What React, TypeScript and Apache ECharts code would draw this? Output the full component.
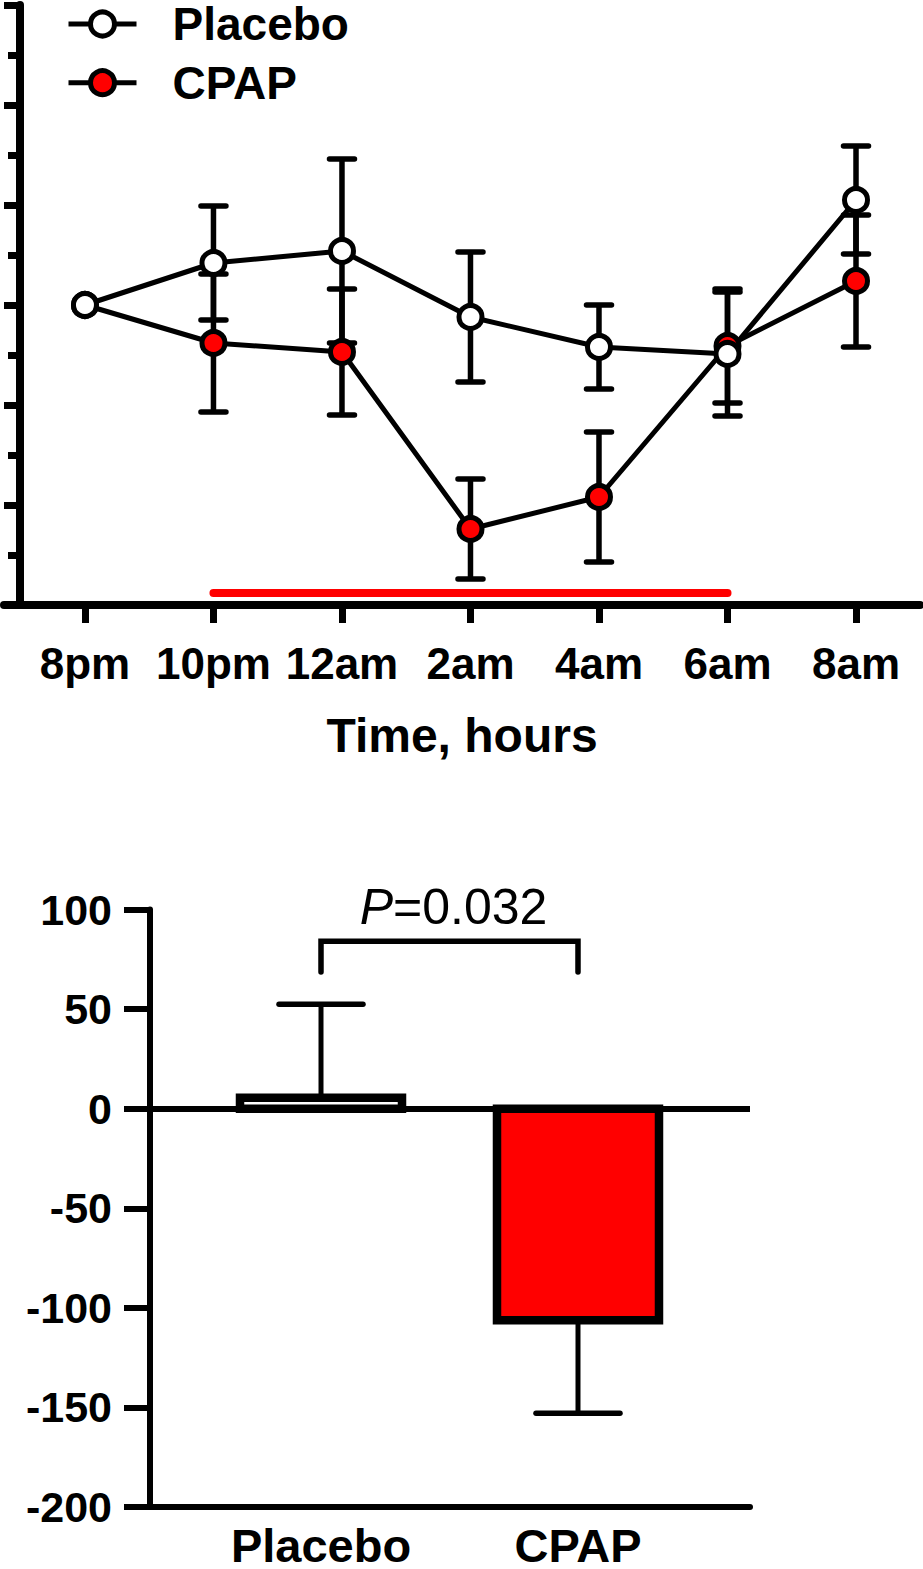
import React, { useEffect, useRef } from "react";
import * as echarts from "echarts";

// ---- Top panel data ----
const timeLabels = ["8pm", "10pm", "12am", "2am", "4am", "6am", "8am"];
const placeboMean = [100.0, 104.2, 105.4, 98.8, 95.8, 95.1, 110.5];
const placeboErr = [0, 5.7, 9.2, 6.5, 4.2, 6.2, 5.4];
const cpapMean = [100.0, 96.2, 95.3, 77.6, 80.8, 95.9, 102.4];
const cpapErr = [0, 6.9, 6.3, 5.0, 6.5, 5.7, 6.6];
const sigSpan = [1, 5];
const sigLevel = 71.2;

// ---- Bottom panel data ----
const groupNames = ["Placebo", "CPAP"];
const changeMean = [5.5, -106.2];
const changeErrEnd = [52.4, -152.9];
const barColors = ["#ffffff", "#ff0000"];
const bracketEnds = [0, 1];
const bracketTop = 84;
const bracketFoot = 68.6;
const pLabel = "P=0.032";
const pLabelLevel = 101.5;

const FONT = "'Liberation Sans', Arial, Helvetica, sans-serif";
const RED = "#ff0000";

function errData(mean: number[], err: number[]) {
  const out: number[][] = [];
  mean.forEach((m, i) => {
    if (err[i] > 0) out.push([i, m - err[i], m + err[i]]);
  });
  return out;
}

function errRender(half: number) {
  return (params: any, api: any) => {
    const x = api.value(0);
    const a = api.coord([x, api.value(1)]);
    const b = api.coord([x, api.value(2)]);
    const capStyle = { stroke: "#000", lineWidth: 5.5, lineCap: "round" };
    return {
      type: "group",
      children: [
        { type: "line", shape: { x1: a[0], y1: a[1], x2: b[0], y2: b[1] }, style: { stroke: "#000", lineWidth: 5.5 } },
        { type: "line", shape: { x1: a[0] - half, y1: a[1], x2: a[0] + half, y2: a[1] }, style: capStyle },
        { type: "line", shape: { x1: b[0] - half, y1: b[1], x2: b[0] + half, y2: b[1] }, style: capStyle },
      ],
    };
  };
}

function oneSidedErrRender(half: number) {
  return (params: any, api: any) => {
    const x = api.value(0);
    const a = api.coord([x, api.value(1)]);
    const b = api.coord([x, api.value(2)]);
    return {
      type: "group",
      children: [
        { type: "line", shape: { x1: a[0], y1: a[1], x2: b[0], y2: b[1] }, style: { stroke: "#000", lineWidth: 5 } },
        { type: "line", shape: { x1: b[0] - half, y1: b[1], x2: b[0] + half, y2: b[1] }, style: { stroke: "#000", lineWidth: 5.5, lineCap: "round" } },
      ],
    };
  };
}

// bar with a stroke centred on its edges (as in the original figure)
function barRender(innerWidth: number, border: number) {
  return (params: any, api: any) => {
    const x = api.value(0);
    const top = api.coord([x, api.value(1)]);
    const base = api.coord([x, 0]);
    const y0 = Math.min(top[1], base[1]);
    const h = Math.abs(top[1] - base[1]);
    return {
      type: "rect",
      shape: { x: top[0] - innerWidth / 2, y: y0, width: innerWidth, height: h },
      style: { fill: barColors[params.dataIndex], stroke: "#000", lineWidth: border },
    };
  };
}

export default function App() {
  const ref = useRef<HTMLDivElement>(null);

  useEffect(() => {
    if (!ref.current) return;
    const chart = echarts.init(ref.current, null, { renderer: "svg" });

    const option: any = {
      animation: false,
      backgroundColor: "#fff",
      textStyle: { fontFamily: FONT, color: "#000" },
      legend: {
        data: ["Placebo", "CPAP"],
        orient: "vertical",
        left: 66,
        top: 1,
        padding: 0,
        itemWidth: 68,
        itemHeight: 30,
        itemGap: 12.7,
        lineStyle: { width: 5, color: "#000" },
        itemStyle: { borderWidth: 5, borderColor: "#000" },
        textStyle: {
          fontFamily: FONT,
          fontSize: 46,
          fontWeight: "bold",
          color: "#000",
          lineHeight: 46,
          padding: [0, 0, 0, 31],
        },
      },
      grid: [
        { left: 4, top: 5, width: 916, height: 600 },
        { left: 150, top: 909.5, width: 600, height: 599 },
      ],
      xAxis: [
        {
          gridIndex: 0,
          type: "value",
          min: -0.63,
          max: 6.498,
          splitLine: { show: false },
          axisLine: { show: true, onZero: false, lineStyle: { color: "#000", width: 8 } },
          axisTick: {
            show: true,
            customValues: timeLabels.map((_, i) => i),
            length: 18,
            lineStyle: { color: "#000", width: 7 },
          },
          axisLabel: {
            customValues: timeLabels.map((_, i) => i),
            formatter: (v: number) => timeLabels[Math.round(v)] ?? "",
            fontFamily: FONT,
            fontSize: 44,
            fontWeight: "bold",
            color: "#000",
            margin: 36,
          },
          name: "Time, hours",
          nameLocation: "middle",
          nameGap: 106,
          nameTextStyle: { fontFamily: FONT, fontSize: 48, fontWeight: "bold", color: "#000" },
        },
        {
          gridIndex: 1,
          type: "value",
          min: -0.6654,
          max: 1.6693,
          position: "bottom",
          splitLine: { show: false },
          axisLine: { show: true, onZero: false, lineStyle: { color: "#000", width: 6 } },
          axisTick: { show: false },
          axisLabel: {
            customValues: groupNames.map((_, i) => i),
            formatter: (v: number) => groupNames[Math.round(v)] ?? "",
            fontFamily: FONT,
            fontSize: 47,
            fontWeight: "bold",
            color: "#000",
            margin: 15,
          },
        },
      ],
      yAxis: [
        {
          gridIndex: 0,
          type: "value",
          min: 70,
          max: 130,
          interval: 10,
          offset: -16,
          splitLine: { show: false },
          minorSplitLine: { show: false },
          axisLine: { show: true, onZero: false, lineStyle: { color: "#000", width: 8 } },
          axisTick: { show: true, length: 16, lineStyle: { color: "#000", width: 7 } },
          minorTick: { show: true, splitNumber: 2, length: 12, lineStyle: { color: "#000", width: 7 } },
          axisLabel: { show: false },
        },
        {
          gridIndex: 1,
          type: "value",
          min: -200,
          max: 100,
          interval: 50,
          splitLine: { show: false },
          axisLine: { show: true, onZero: false, lineStyle: { color: "#000", width: 6 } },
          axisTick: { show: true, length: 26, lineStyle: { color: "#000", width: 6 } },
          axisLabel: {
            fontFamily: FONT,
            fontSize: 43,
            fontWeight: "bold",
            color: "#000",
            margin: 38,
          },
        },
      ],
      series: [
        {
          name: "significance",
          type: "line",
          xAxisIndex: 0,
          yAxisIndex: 0,
          data: sigSpan.map((x) => [x, sigLevel]),
          symbol: "none",
          lineStyle: { color: RED, width: 8, cap: "round" },
          silent: true,
        },
        {
          name: "CPAP err",
          type: "custom",
          xAxisIndex: 0,
          yAxisIndex: 0,
          data: errData(cpapMean, cpapErr),
          renderItem: errRender(12.5),
          silent: true,
        },
        {
          name: "CPAP",
          type: "line",
          xAxisIndex: 0,
          yAxisIndex: 0,
          data: cpapMean.map((v, i) => [i, v]),
          symbol: "circle",
          symbolSize: 23,
          showAllSymbol: true,
          itemStyle: { color: RED, borderColor: "#000", borderWidth: 5 },
          lineStyle: { color: "#000", width: 5 },
        },
        {
          name: "Placebo err",
          type: "custom",
          xAxisIndex: 0,
          yAxisIndex: 0,
          data: errData(placeboMean, placeboErr),
          renderItem: errRender(12.5),
          silent: true,
        },
        {
          name: "Placebo",
          type: "line",
          xAxisIndex: 0,
          yAxisIndex: 0,
          data: placeboMean.map((v, i) => [i, v]),
          symbol: "circle",
          symbolSize: 23,
          showAllSymbol: true,
          itemStyle: { color: "#fff", borderColor: "#000", borderWidth: 5 },
          lineStyle: { color: "#000", width: 5 },
        },
        {
          name: "change err",
          type: "custom",
          xAxisIndex: 1,
          yAxisIndex: 1,
          data: changeMean.map((m, i) => [i, m, changeErrEnd[i]]),
          renderItem: oneSidedErrRender(42),
          silent: true,
        },
        {
          name: "change",
          type: "custom",
          xAxisIndex: 1,
          yAxisIndex: 1,
          data: changeMean.map((v, i) => [i, v]),
          renderItem: barRender(162, 8.5),
          silent: true,
        },
        {
          name: "zero line",
          type: "line",
          xAxisIndex: 1,
          yAxisIndex: 1,
          data: [],
          silent: true,
          markLine: {
            silent: true,
            symbol: ["none", "none"],
            label: { show: false },
            lineStyle: { color: "#000", width: 6, type: "solid" },
            data: [{ yAxis: 0 }],
          },
        },
        {
          name: "bracket",
          type: "custom",
          xAxisIndex: 1,
          yAxisIndex: 1,
          data: [[bracketEnds[0], bracketEnds[1], bracketTop, bracketFoot, pLabelLevel]],
          silent: true,
          renderItem: (params: any, api: any) => {
            const x0 = api.value(0);
            const x1 = api.value(1);
            const top = api.value(2);
            const foot = api.value(3);
            const p1 = api.coord([x0, foot]);
            const p2 = api.coord([x0, top]);
            const p3 = api.coord([x1, top]);
            const p4 = api.coord([x1, foot]);
            const t = api.coord([(x0 + x1) / 2, api.value(4)]);
            return {
              type: "group",
              children: [
                {
                  type: "polyline",
                  shape: { points: [p1, p2, p3, p4] },
                  style: { stroke: "#000", lineWidth: 5.5, lineCap: "round", lineJoin: "miter", fill: "none" },
                },
                {
                  type: "text",
                  style: {
                    x: t[0] + 4,
                    y: t[1],
                    text: "{i|" + pLabel.slice(0, 1) + "}" + pLabel.slice(1),
                    align: "center",
                    verticalAlign: "middle",
                    fontFamily: FONT,
                    fontSize: 50,
                    fill: "#000",
                    rich: {
                      i: { fontStyle: "italic", fontFamily: FONT, fontSize: 50, fill: "#000" },
                    },
                  },
                },
              ],
            };
          },
        },
      ],
    };

    chart.setOption(option);
    return () => chart.dispose();
  }, []);

  return (
    <div
      ref={ref}
      style={{ position: "absolute", left: 0, top: 0, width: 923, height: 1569, background: "#fff" }}
    />
  );
}
